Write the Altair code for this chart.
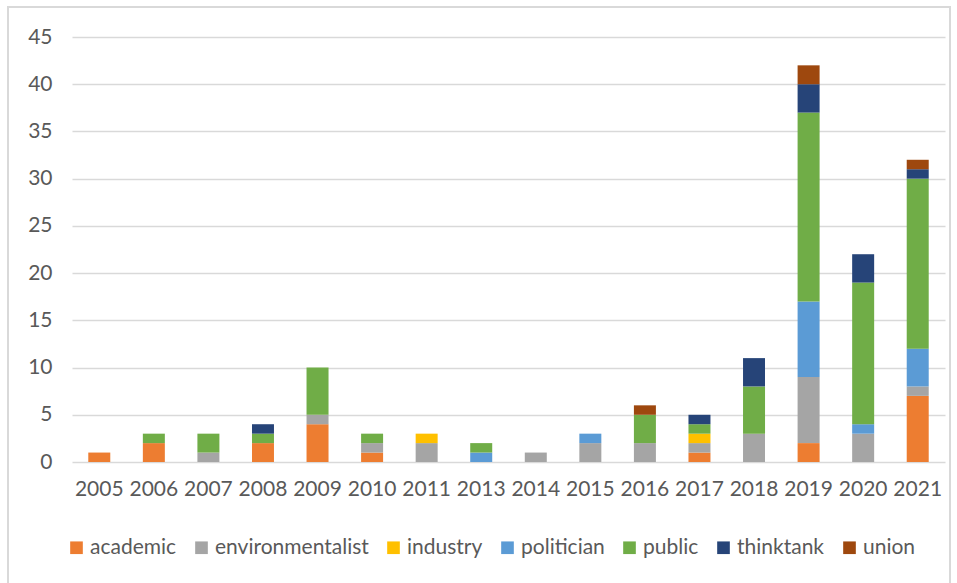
import altair as alt
import pandas as pd

years = ["2005", "2006", "2007", "2008", "2009", "2010", "2011", "2013",
         "2014", "2015", "2016", "2017", "2018", "2019", "2020", "2021"]
categories = ["academic", "environmentalist", "industry", "politician",
              "public", "thinktank", "union"]
colors = ["#ED7D31", "#A5A5A5", "#FFC000", "#5B9BD5", "#70AD47", "#264478", "#9E480E"]

academic         = [1, 2, 0, 2, 4, 1, 0, 0, 0, 0, 0, 1, 0, 2, 0, 7]
environmentalist = [0, 0, 1, 0, 1, 1, 2, 0, 1, 2, 2, 1, 3, 7, 3, 1]
industry         = [0, 0, 0, 0, 0, 0, 1, 0, 0, 0, 0, 1, 0, 0, 0, 0]
politician       = [0, 0, 0, 0, 0, 0, 0, 1, 0, 1, 0, 0, 0, 8, 1, 4]
public           = [0, 1, 2, 1, 5, 1, 0, 1, 0, 0, 3, 1, 5, 20, 15, 18]
thinktank        = [0, 0, 0, 1, 0, 0, 0, 0, 0, 0, 0, 1, 3, 3, 3, 1]
union            = [0, 0, 0, 0, 0, 0, 0, 0, 0, 0, 1, 0, 0, 2, 0, 1]

series = [academic, environmentalist, industry, politician, public, thinktank, union]
rows = []
for ci, (cat, vals) in enumerate(zip(categories, series)):
    for y, v in zip(years, vals):
        if v > 0:
            rows.append({"year": y, "category": cat, "value": v, "order": ci})
df = pd.DataFrame(rows)

FONT = "Lato"
TXT = "#595959"

bars = alt.Chart(df).mark_bar(size=22).encode(
    x=alt.X("year:N", sort=years, title=None,
            scale=alt.Scale(paddingInner=0, paddingOuter=0),
            axis=alt.Axis(labelAngle=0, ticks=False, domain=False, labelFont=FONT,
                          labelFontSize=21, labelColor=TXT, labelPadding=16, grid=False)),
    y=alt.Y("value:Q", stack="zero", title=None,
            scale=alt.Scale(domain=[0, 45], nice=False),
            axis=alt.Axis(values=list(range(0, 50, 5)), ticks=False, domain=False,
                          labelFont=FONT, labelFontSize=21, labelColor=TXT,
                          labelPadding=20, gridColor="#D9D9D9", gridWidth=1.5)),
    color=alt.Color("category:N", sort=categories,
                    scale=alt.Scale(domain=categories, range=colors),
                    legend=alt.Legend(title=None, orient="none", direction="horizontal",
                                      legendX=-6, legendY=500, padding=0,
                                      symbolType="square",
                                      symbolSize=160, symbolStrokeWidth=0,
                                      labelFont=FONT, labelFontSize=21,
                                      labelColor=TXT, columnPadding=14,
                                      labelOffset=3, labelLimit=300)),
    order=alt.Order("order:Q", sort="ascending"),
)

border = alt.Chart(df).mark_rect(fill=None, stroke="#D9D9D9", strokeWidth=1.5).encode(
    x=alt.value(-64), x2=alt.value(878), y=alt.value(-30), y2=alt.value(580)
)

chart = alt.layer(border, bars).properties(
    width=873, height=425,
    padding={"left": 72, "top": 37, "right": 12, "bottom": 121},
    autosize=alt.AutoSizeParams(type="none"),
).configure_view(stroke=None)

chart.save("out.html", embed_options={"renderer": "svg", "actions": False})
